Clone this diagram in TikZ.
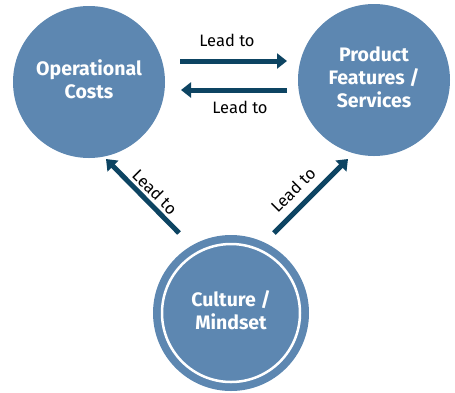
\documentclass[tikz,border=0pt]{standalone}
\usepackage{fontspec}
\setmainfont{Fira Sans}
\usetikzlibrary{arrows.meta}
\definecolor{circblue}{HTML}{5D87B1}
\definecolor{arrowblue}{HTML}{0D4462}
\tikzset{
  bubble/.style={circle, fill=circblue, minimum size=152pt, inner sep=0pt, text depth=5pt, text=white, align=center, font=\fontsize{19.5}{23}\selectfont\bfseries},
  leadarrow/.style={draw=arrowblue, line width=5pt, -{Triangle[length=10pt,width=15pt]}},
  leadlabel/.style={font=\fontsize{16.5}{18}\selectfont, text=black, inner sep=0pt}
}
\begin{document}
\begin{tikzpicture}[x=1pt,y=-1pt]
\useasboundingbox (0,0) rectangle (455,392);
\node[bubble] (ops) at (89,82) {Operational\\Costs};
\node[bubble] (prod) at (374,80) {Product\\Features /\\Services};
\node[bubble, minimum size=156pt] (cult) at (231,313) {Culture /\\Mindset};
\draw[white, line width=2.5pt] (cult.center) circle (69);
\coordinate (a1s) at (180,61); \coordinate (a1e) at (287,61);
\coordinate (a2s) at (287,90); \coordinate (a2e) at (181,90);
\coordinate (a3s) at (179,233); \coordinate (a3e) at (106,159);
\coordinate (a4s) at (274,233); \coordinate (a4e) at (348,159);
\draw[leadarrow] (a1s) -- (a1e);
\draw[leadarrow] (a2s) -- (a2e);
\draw[leadarrow] (a3s) -- (a3e);
\draw[leadarrow] (a4s) -- (a4e);
\node[leadlabel] (l1) at (227,40) {Lead to};
\node[leadlabel] (l2) at (240,107) {Lead to};
\node[leadlabel, rotate=-45] (l3) at (155,192) {Lead to};
\node[leadlabel, rotate=45] (l4) at (293,190) {Lead to};
\end{tikzpicture}
\end{document}
